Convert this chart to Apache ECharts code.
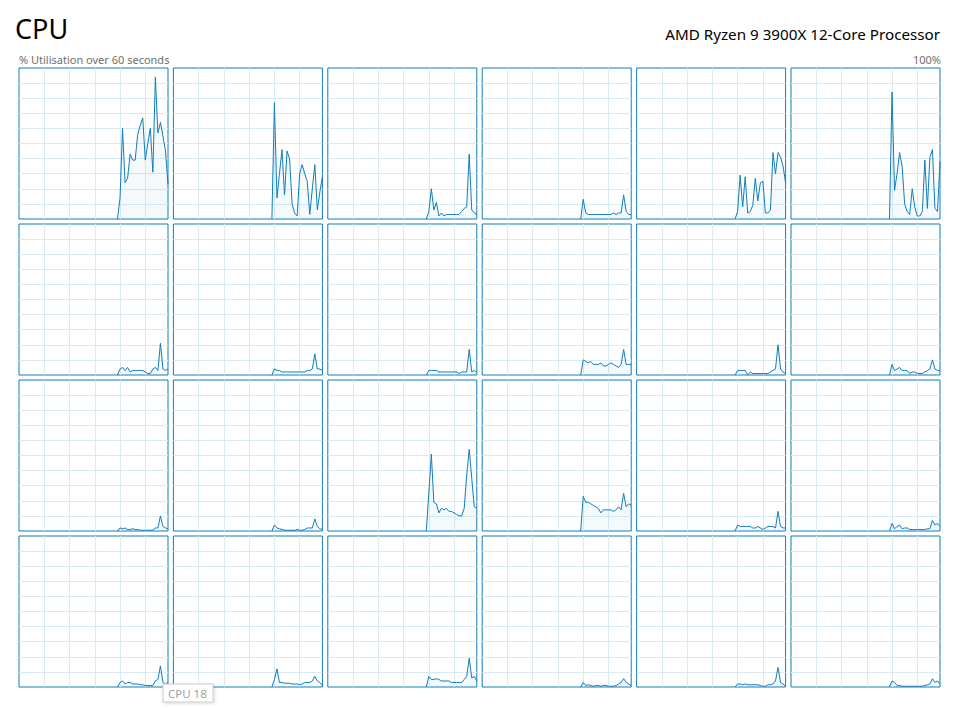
<!DOCTYPE html>
<html><head><meta charset="utf-8">
<script src="https://cdn.jsdelivr.net/npm/echarts@6/dist/echarts.min.js"></script>
<style>html,body{margin:0;padding:0;background:#fff;}#c{width:953px;height:708px;}</style>
</head><body><div id="c"></div>
<script>
// seconds on the 60-second timeline (graph started at ~39 s)
const TIME = [39,40,41,42,43,44,45,46,47,48,49,50,51,52,53,54,55,56,57,58,59];
// % utilisation per logical processor
const CPU0  = [0,14,60,24,27,43,39,39,56,62,67,39,50,60,31,94,57,64,55,45,23];
const CPU1  = [0,77,14,30,46,16,45,40,10,4,2,30,36,30,25,3,20,36,6,18,28];
const CPU2  = [0,5,20,6,11,2,4,2,3,3,3,3,3,3,5,7,8,43,6,4,3];
const CPU3  = [0,13,4,3,3,3,3,3,3,3,3,3,3,4,3,4,4,16,5,3,3];
const CPU4  = [0,5,29,8,28,4,5,9,27,12,24,25,4,4,6,44,30,44,41,35,24];
const CPU5  = [0,84,19,30,44,35,10,5,3,20,8,2,2,5,39,7,41,46,7,5,38];
const CPU6  = [0,4,5,3,5,2,3,3,3,3,3,2,1,1,4,5,3,21,4,3,4];
const CPU7  = [0,4,3,3,2,2,2,2,2,2,2,2,2,2,3,3,4,14,4,4,3];
const CPU8  = [0,3,3,3,3,2,2,2,2,2,2,2,2,1,2,2,2,17,2,3,2];
const CPU9  = [0,10,9,8,9,7,7,7,8,6,6,7,8,7,6,5,7,17,7,7,7];
const CPU10 = [0,3,3,3,3,0,2,1,1,1,1,1,1,1,2,3,4,20,4,2,1];
const CPU11 = [0,7,3,4,5,3,3,3,1,2,2,1,1,1,2,3,4,10,4,3,3];
const CPU12 = [0,2,1.5,2,1,1,1.5,1,1,0.5,0.5,0.5,0.5,0.5,0.5,2,2,10,3,2,1.5];
const CPU13 = [0,4,2,1.5,1,0.5,0.5,0.5,0.5,0.5,1,0.5,0.5,1,2,2,2,8,3,1.5,1];
const CPU14 = [0,25,51,19,18,12,15,14,15,13,13,12,11,10,10,15,37,54,35,16,15];
const CPU15 = [0,23,19,19,18,17,16,15,12,14,14,14,14,13,14,16,14,25,16,18,17];
const CPU16 = [0,4,3,3,3,3,3,2,2,3,2,1,2,3,3,3,2,13,3,2,2];
const CPU17 = [0,5,1.5,3,4,1.5,2,2,1,1,1,1,1,1,1,1.5,1.5,7,4,5,3];
const CPU18 = [0,3,4,2,3,3,2,2,2,1.5,1.5,1,1,1,1,4,5,14,3,2,3];
const CPU19 = [0,5,12,3,3,2.5,2.5,2.5,2,2,2,1.5,2,3,3,3,4,7,4,3,1];
const CPU20 = [0,7,5,5,5.5,5,4,4,4,4,3,3,3,3,3,5,7,19,6,7,4];
const CPU21 = [0,3,1,1.5,1,0.5,1,1,0.5,1,1,0.5,0.5,0.5,1,2,3,5.5,3,2,1];
const CPU22 = [0,2,2,1.5,2,1.5,1.5,1.5,1.5,1.5,1,0.5,0.5,1.5,1.5,2,4,13,3,2,0.5];
const CPU23 = [0,4,3,1,1,0.5,0.5,0.5,0.5,0.5,0.5,0.5,0.5,0.5,1,1.5,2,5.5,3,4,2];
const CORES = [CPU0,CPU1,CPU2,CPU3,CPU4,CPU5,CPU6,CPU7,CPU8,CPU9,CPU10,CPU11,
               CPU12,CPU13,CPU14,CPU15,CPU16,CPU17,CPU18,CPU19,CPU20,CPU21,CPU22,CPU23];
const TITLE = 'CPU';
const SUBTITLE = '% Utilisation over 60 seconds';
const PROCESSOR = 'AMD Ryzen 9 3900X 12-Core Processor';
const MAX_LABEL = '100%';
const HOVER_LABEL = 'CPU 18';

const FONT = '"Noto Sans", "Open Sans", sans-serif';
const LINE = '#117DBB';
const GRIDC = '#D9EAF4';

const chart = echarts.init(document.getElementById('c'), null, {renderer: 'svg'});
const grids = [], xAxes = [], yAxes = [], series = [];
const hidden = {axisLine:{show:false}, axisTick:{show:false}, axisLabel:{show:false}};
CORES.forEach((vals, i) => {
  const r = Math.floor(i / 6), c = i % 6;
  grids.push({left: 19 + c * 154.4, top: 68 + r * 156, width: 149, height: 151,
    show: true, borderColor: LINE, borderWidth: 1, backgroundColor: '#fff', containLabel: false});
  xAxes.push(Object.assign({type: 'value', gridIndex: i, min: 0, max: 59, interval: 10,
    splitLine: {show: true, showMinLine: false, showMaxLine: false, lineStyle: {color: GRIDC, width: 1}}}, hidden));
  yAxes.push(Object.assign({type: 'value', gridIndex: i, min: 0, max: 100, interval: 10,
    splitLine: {show: true, showMinLine: false, showMaxLine: false, lineStyle: {color: GRIDC, width: 1}}}, hidden));
  series.push({type: 'line', xAxisIndex: i, yAxisIndex: i,
    data: TIME.map((t, k) => [t, vals[k]]),
    showSymbol: false, symbol: 'none', silent: true,
    lineStyle: {color: LINE, width: 1},
    areaStyle: {color: 'rgba(17,125,187,0.07)'}});
});

chart.setOption({
  animation: false,
  backgroundColor: '#fff',
  grid: grids, xAxis: xAxes, yAxis: yAxes, series: series,
  graphic: [
    {type: 'text', x: 15, y: 28, style: {text: TITLE, fontSize: 27, fontFamily: FONT, fill: '#000', align: 'left', verticalAlign: 'middle'}},
    {type: 'text', x: 19, y: 59, style: {text: SUBTITLE, fontSize: 11, fontFamily: FONT, fill: '#707070', align: 'left', verticalAlign: 'middle'}},
    {type: 'text', x: 940, y: 34, style: {text: PROCESSOR, fontSize: 15.2, fontFamily: FONT, fill: '#000', align: 'right', verticalAlign: 'middle'}},
    {type: 'text', x: 941, y: 59, style: {text: MAX_LABEL, fontSize: 11, fontFamily: FONT, fill: '#707070', align: 'right', verticalAlign: 'middle'}},
    {type: 'rect', shape: {x: 163, y: 684, width: 50, height: 18}, z: 100,
      style: {fill: '#fff', stroke: '#cccccc', lineWidth: 1, shadowBlur: 3, shadowOffsetX: 1, shadowOffsetY: 1, shadowColor: 'rgba(0,0,0,0.15)'}},
    {type: 'text', x: 168, y: 693, z: 101, style: {text: HOVER_LABEL, fontSize: 11.5, fontFamily: FONT, fill: '#a0a0a0', align: 'left', verticalAlign: 'middle'}}
  ]
});
</script></body></html>
